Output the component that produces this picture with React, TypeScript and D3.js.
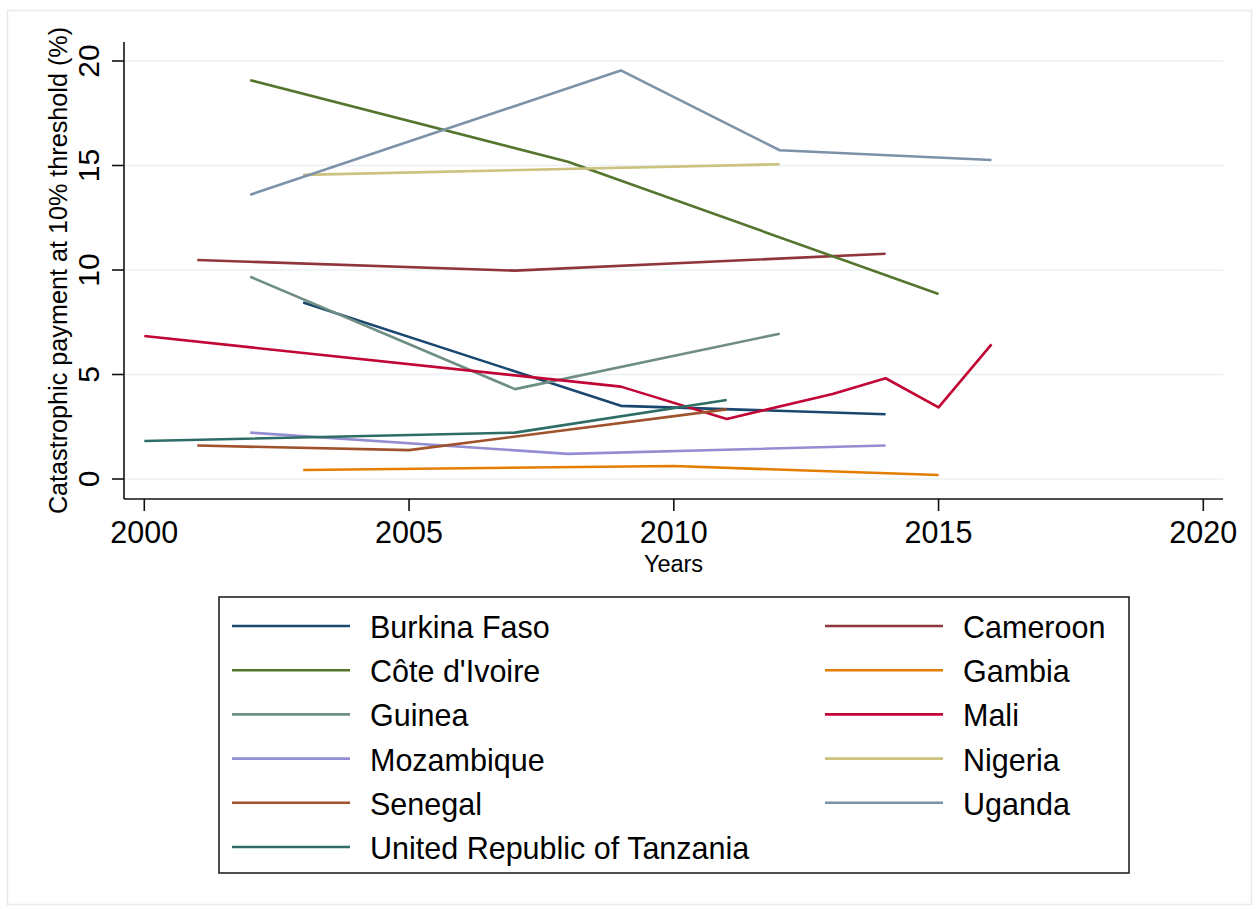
import React from "react";
import * as d3 from "d3";

type Pt = [number, number];

// Catastrophic payment (% of households above 10% threshold) by survey year
const burkinaFaso: Pt[] = [[2003, 8.45], [2009, 3.5], [2014, 3.1]];
const cameroon: Pt[] = [[2001, 10.48], [2007, 9.97], [2014, 10.78]];
const coteDIvoire: Pt[] = [[2002, 19.08], [2008, 15.18], [2015, 8.85]];
const gambia: Pt[] = [[2003, 0.43], [2010, 0.62], [2015, 0.19]];
const guinea: Pt[] = [[2002, 9.68], [2007, 4.3], [2012, 6.95]];
const mali: Pt[] = [[2000, 6.84], [2009, 4.42], [2011, 2.87], [2013, 4.07], [2014, 4.82], [2015, 3.43], [2016, 6.44]];
const mozambique: Pt[] = [[2002, 2.22], [2008, 1.2], [2014, 1.6]];
const nigeria: Pt[] = [[2003, 14.55], [2012, 15.06]];
const senegal: Pt[] = [[2001, 1.6], [2005, 1.38], [2011, 3.33]];
const uganda: Pt[] = [[2002, 13.6], [2009, 19.55], [2012, 15.73], [2016, 15.26]];
const tanzania: Pt[] = [[2000, 1.82], [2007, 2.22], [2011, 3.78]];

const countries = [
  "Burkina Faso", "Cameroon", "Côte d'Ivoire", "Gambia", "Guinea", "Mali",
  "Mozambique", "Nigeria", "Senegal", "Uganda", "United Republic of Tanzania",
];
const seriesData = [burkinaFaso, cameroon, coteDIvoire, gambia, guinea, mali, mozambique, nigeria, senegal, uganda, tanzania];
const colors = [
  "#1a476f", "#90353b", "#55752f", "#e37e00", "#6e8e84", "#c10534",
  "#938dd2", "#cac27e", "#a0522d", "#7b92a8", "#2d6d66",
];

const xTicks = [2000, 2005, 2010, 2015, 2020];
const yTicks = [0, 5, 10, 15, 20];

const W = 1257;
const H = 909;
const FONT = "'Liberation Sans', Arial, Helvetica, sans-serif";

export default function App() {
  const x = d3.scaleLinear().domain([2000, 2020]).range([144.3, 1203.3]);
  const y = d3.scaleLinear().domain([0, 20]).range([479, 61]);

  const plotLeft = 124;
  const plotRight = 1223;
  const plotTop = 42;
  const plotBottom = 499;

  const line = d3
    .line<Pt>()
    .x((d) => x(d[0]))
    .y((d) => y(d[1]));

  // legend layout: two columns, row-major order
  const legLeft = 219;
  const legTop = 597;
  const legRight = 1129;
  const legBottom = 873;
  const colX = [232, 825];
  const rowY0 = 626;
  const rowStep = 44.2;

  return (
    <svg
      width={W}
      height={H}
      style={{ position: "absolute", left: 0, top: 0, background: "#fff" }}
      fontFamily={FONT}
    >
      <rect x={7.5} y={10.5} width={1244} height={894} fill="#ffffff" stroke="#e4ebee" strokeWidth={1.5} />

      {/* gridlines */}
      {yTicks.map((t) => (
        <line key={"g" + t} x1={plotLeft} x2={plotRight} y1={y(t)} y2={y(t)} stroke="#eaf0f2" strokeWidth={1.5} />
      ))}

      {/* axes */}
      <line x1={plotLeft} x2={plotLeft} y1={plotTop} y2={plotBottom} stroke="#111" strokeWidth={1.6} />
      <line x1={plotLeft} x2={plotRight} y1={plotBottom} y2={plotBottom} stroke="#111" strokeWidth={1.6} />

      {yTicks.map((t) => (
        <g key={"y" + t}>
          <line x1={plotLeft - 12} x2={plotLeft} y1={y(t)} y2={y(t)} stroke="#111" strokeWidth={1.6} />
          <text
            transform={`translate(99,${y(t)}) rotate(-90)`}
            textAnchor="middle"
            fontSize={30}
            fill="#000"
          >
            {t}
          </text>
        </g>
      ))}

      {xTicks.map((t) => (
        <g key={"x" + t}>
          <line x1={x(t)} x2={x(t)} y1={plotBottom} y2={plotBottom + 12} stroke="#111" strokeWidth={1.6} />
          <text x={x(t)} y={542.5} textAnchor="middle" fontSize={30.5} fill="#000">
            {t}
          </text>
        </g>
      ))}

      <text x={(plotLeft + plotRight) / 2} y={571.5} textAnchor="middle" fontSize={23.5} fill="#000">
        Years
      </text>
      <text
        transform={`translate(67,${(plotTop + plotBottom) / 2}) rotate(-90)`}
        textAnchor="middle"
        fontSize={25.2}
        fill="#000"
      >
        Catastrophic payment at 10% threshold (%)
      </text>

      {/* series */}
      {seriesData.map((s, i) => (
        <path
          key={countries[i]}
          d={line(s) || ""}
          fill="none"
          stroke={colors[i]}
          strokeWidth={2.6}
          strokeLinejoin="round"
        />
      ))}

      {/* legend */}
      <rect
        x={legLeft}
        y={legTop}
        width={legRight - legLeft}
        height={legBottom - legTop}
        fill="#fff"
        stroke="#222"
        strokeWidth={1.6}
      />
      {countries.map((c, i) => {
        const col = i % 2;
        const row = Math.floor(i / 2);
        const ly = rowY0 + row * rowStep;
        const lx = colX[col];
        return (
          <g key={"l" + c}>
            <line x1={lx} x2={lx + 118} y1={ly} y2={ly} stroke={colors[i]} strokeWidth={2.6} />
            <text x={lx + 138} y={ly + 12} fontSize={30.5} fill="#000">
              {c}
            </text>
          </g>
        );
      })}
    </svg>
  );
}
